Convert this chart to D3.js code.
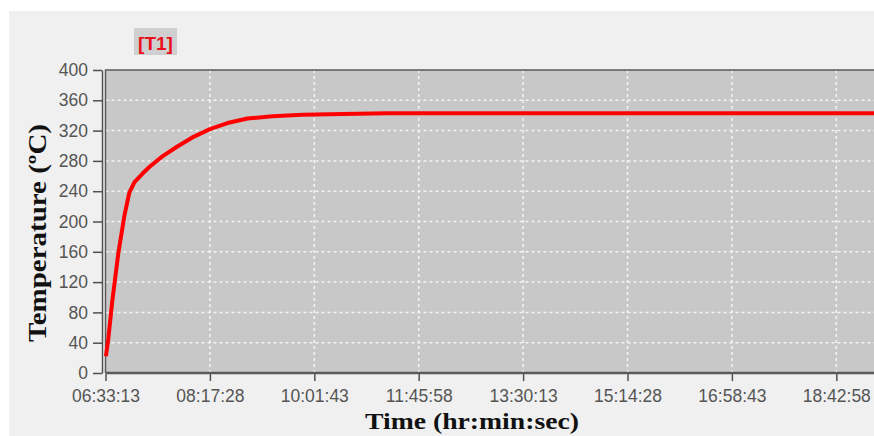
<!DOCTYPE html>
<html>
<head>
<meta charset="utf-8">
<script src="https://cdnjs.cloudflare.com/ajax/libs/d3/7.8.5/d3.min.js"></script>
<style>
  body { margin: 0; background: #fff; }
</style>
</head>
<body>
<div id="chart"></div>
<script>
// data
var times = ["06:33:40", "06:36:00", "06:40:00", "06:46:00", "06:52:00", "06:57:00", "07:02:11",
             "07:10:00", "07:17:00", "07:30:00", "07:45:00", "08:00:00", "08:17:28", "08:35:00", "08:55:00",
             "09:20:00", "09:50:00", "10:30:00", "11:15:00", "12:30:00", "14:00:00", "16:00:00", "18:00:00", "20:27:13"];
var temps = [22, 45, 95, 158, 207, 238, 252,
             263, 272, 286, 299, 311, 322, 330, 336,
             339, 341, 342, 343, 343, 343, 343, 343, 343];
var xTickLabels = ["06:33:13", "08:17:28", "10:01:43", "11:45:58", "13:30:13", "15:14:28", "16:58:43", "18:42:58"];
var xEnd = "20:27:13";
var yTicks = [0, 40, 80, 120, 160, 200, 240, 280, 320, 360, 400];
var seriesName = "[T1]";

var width = 874, height = 436;
var plot = {left: 105.5, top: 70, bottom: 373};
var parse = d3.timeParse("%H:%M:%S");

var svg = d3.select("#chart").append("svg")
  .attr("width", width)
  .attr("height", height);

// light panel
svg.append("rect")
  .attr("x", 9).attr("y", 11)
  .attr("width", width - 9).attr("height", height - 11)
  .style("fill", "#f0f0f0");

var x = d3.scaleTime()
  .domain([parse(xTickLabels[0]), parse(xEnd)])
  .range([plot.left, plot.left + 8 * 104.4]);

var y = d3.scaleLinear()
  .domain([0, 400])
  .range([plot.bottom, plot.top]);

// plot background
svg.append("rect")
  .attr("x", plot.left).attr("y", plot.top)
  .attr("width", width - plot.left).attr("height", plot.bottom - plot.top)
  .style("fill", "#c8c8c8");

// grid
svg.append("g").selectAll("line").data(yTicks.slice(1, -1)).enter().append("line")
  .attr("x1", plot.left).attr("x2", width)
  .attr("y1", function(d) { return y(d); }).attr("y2", function(d) { return y(d); })
  .style("stroke", "#f4f4f4").style("stroke-width", 1.5).style("stroke-dasharray", "3,3");
svg.append("g").selectAll("line").data(xTickLabels.slice(1)).enter().append("line")
  .attr("x1", function(d) { return x(parse(d)); }).attr("x2", function(d) { return x(parse(d)); })
  .attr("y1", plot.top).attr("y2", plot.bottom)
  .style("stroke", "#f4f4f4").style("stroke-width", 1.5).style("stroke-dasharray", "3,3");

// plot border
svg.append("path")
  .attr("d", "M" + plot.left + "," + plot.bottom + "V" + plot.top + "H" + width)
  .style("fill", "none").style("stroke", "#5a5a5a").style("stroke-width", 1.5);
svg.append("line")
  .attr("x1", plot.left).attr("x2", width)
  .attr("y1", plot.bottom).attr("y2", plot.bottom)
  .style("stroke", "#5a5a5a").style("stroke-width", 2.5);

// series
var line = d3.line()
  .x(function(d, i) { return x(parse(times[i])); })
  .y(function(d) { return y(d); })
  .curve(d3.curveLinear);
svg.append("path")
  .datum(temps)
  .attr("d", line)
  .style("fill", "none")
  .style("stroke", "#ff0000")
  .style("stroke-width", 4)
  .style("stroke-linejoin", "round");

// y axis
var yAxis = svg.append("g")
  .attr("transform", "translate(102,0)")
  .call(d3.axisLeft(y).tickValues(yTicks).tickSize(9).tickSizeOuter(0).tickPadding(5));
// x axis
var xAxis = svg.append("g")
  .attr("transform", "translate(0," + (plot.bottom + 1) + ")")
  .call(d3.axisBottom(x).tickValues(xTickLabels.map(parse)).tickSize(7).tickSizeOuter(0)
    .tickFormat(d3.timeFormat("%H:%M:%S")).tickPadding(9));
xAxis.select(".domain").remove();
svg.selectAll(".tick line").style("stroke", "#505050").style("stroke-width", 1.5);
yAxis.select(".domain").style("stroke", "#505050").style("stroke-width", 1.5);
svg.selectAll(".tick text")
  .style("font-family", "'Liberation Sans', Arial, sans-serif")
  .style("font-size", "17.5px")
  .style("fill", "#555");

// series label
svg.append("rect")
  .attr("x", 134).attr("y", 28).attr("width", 43).attr("height", 27)
  .style("fill", "#cfcfcf");
svg.append("text")
  .attr("x", 155.5).attr("y", 50)
  .attr("text-anchor", "middle")
  .style("font-family", "'Liberation Sans', Arial, sans-serif")
  .style("font-weight", "bold")
  .style("font-size", "19px")
  .style("fill", "#e8101a")
  .text(seriesName);

// axis titles
svg.append("text")
  .attr("x", 472).attr("y", 429)
  .attr("text-anchor", "middle")
  .attr("textLength", 214).attr("lengthAdjust", "spacingAndGlyphs")
  .style("font-family", "'Liberation Serif', 'Times New Roman', serif")
  .style("font-weight", "bold")
  .style("font-size", "24px")
  .style("fill", "#111")
  .text("Time (hr:min:sec)");
svg.append("text")
  .attr("transform", "translate(46,233) rotate(-90)")
  .attr("text-anchor", "middle")
  .attr("textLength", 218).attr("lengthAdjust", "spacingAndGlyphs")
  .style("font-family", "'Liberation Serif', 'Times New Roman', serif")
  .style("font-weight", "bold")
  .style("font-size", "25px")
  .style("fill", "#111")
  .text("Temperature (ºC)");
</script>
</body>
</html>
